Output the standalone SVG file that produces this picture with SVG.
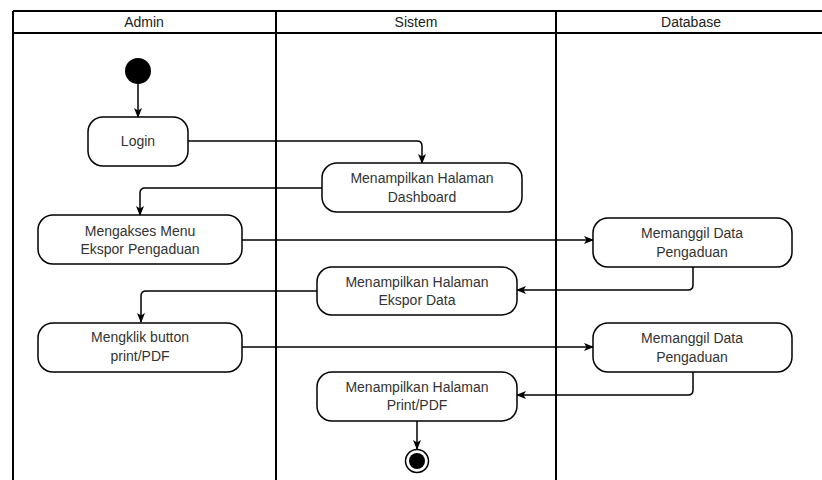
<svg xmlns="http://www.w3.org/2000/svg" width="822" height="480" viewBox="0 0 822 480">
  <style>
    .lane { stroke: #000; stroke-width: 2; fill: none; }
    .head { font-family: "Liberation Sans", Arial, sans-serif; font-size: 14px; fill: #222; text-anchor: middle; }
    .act rect { fill: #fff; stroke: #000; stroke-width: 1.5; }
    .act text { font-family: "Liberation Sans", Arial, sans-serif; font-size: 14px; fill: #333; text-anchor: middle; }
    .edge { fill: none; stroke: #000; stroke-width: 1.5; marker-end: url(#arrow); }
  </style>
  <defs>
    <marker id="arrow" viewBox="0 0 10 10" refX="9" refY="5" markerWidth="10" markerHeight="10" markerUnits="userSpaceOnUse" orient="auto">
      <path d="M0,1 L10,5 L0,9 L2.5,5 z" fill="#000"/>
    </marker>
  </defs>
  <rect width="822" height="480" fill="#fff"/>

  <!-- swimlanes -->
  <g id="lanes">
    <line class="lane" x1="13" y1="11" x2="822" y2="11"/>
    <line class="lane" x1="13" y1="33" x2="822" y2="33"/>
    <line class="lane" x1="13" y1="11" x2="13" y2="480"/>
    <line class="lane" x1="276" y1="11" x2="276" y2="480"/>
    <line class="lane" x1="556" y1="11" x2="556" y2="480"/>
    <text class="head" x="144" y="27">Admin</text>
    <text class="head" x="416" y="27">Sistem</text>
    <text class="head" x="691" y="27">Database</text>
  </g>

  <!-- connectors -->
  <g id="connectors">
    <path class="edge" d="M138,84 V117"/>
    <path class="edge" d="M188,141 H417 Q422,141 422,146 V163"/>
    <path class="edge" d="M322,188 H145 Q140,188 140,193 V215"/>
    <path class="edge" d="M242,240 H593"/>
    <path class="edge" d="M693,267 V285 Q693,290 688,290 H517"/>
    <path class="edge" d="M317,291 H146 Q141,291 141,296 V322"/>
    <path class="edge" d="M242,347 H593"/>
    <path class="edge" d="M693,372 V390 Q693,395 688,395 H517"/>
    <path class="edge" d="M417,421 V449"/>
  </g>

  <g id="start">
    <circle cx="138" cy="71" r="13" fill="#000"/>
  </g>

  <g id="login" class="act">
    <rect x="88" y="117" width="100" height="49" rx="15"/>
    <text x="138" y="146">Login</text>
  </g>

  <g id="dashboard" class="act">
    <rect x="322" y="163" width="200" height="49" rx="15"/>
    <text x="422" y="183">Menampilkan Halaman</text>
    <text x="422" y="202">Dashboard</text>
  </g>

  <g id="menu-ekspor" class="act">
    <rect x="38" y="215" width="204" height="49" rx="15"/>
    <text x="140" y="236">Mengakses Menu</text>
    <text x="140" y="254">Ekspor Pengaduan</text>
  </g>

  <g id="panggil-1" class="act">
    <rect x="593" y="218" width="199" height="49" rx="15"/>
    <text x="692" y="238">Memanggil Data</text>
    <text x="692" y="257">Pengaduan</text>
  </g>

  <g id="ekspor-data" class="act">
    <rect x="317" y="267" width="200" height="48" rx="15"/>
    <text x="417" y="287">Menampilkan Halaman</text>
    <text x="417" y="305">Ekspor Data</text>
  </g>

  <g id="klik-print" class="act">
    <rect x="38" y="323" width="204" height="49" rx="15"/>
    <text x="140" y="342">Mengklik button</text>
    <text x="140" y="361">print/PDF</text>
  </g>

  <g id="panggil-2" class="act">
    <rect x="593" y="323" width="199" height="49" rx="15"/>
    <text x="692" y="343">Memanggil Data</text>
    <text x="692" y="362">Pengaduan</text>
  </g>

  <g id="print-pdf" class="act">
    <rect x="317" y="372" width="200" height="49" rx="15"/>
    <text x="417" y="392">Menampilkan Halaman</text>
    <text x="417" y="410">Print/PDF</text>
  </g>

  <g id="end">
    <circle cx="417" cy="461" r="11.5" fill="#fff" stroke="#000" stroke-width="1.5"/>
    <circle cx="417" cy="461" r="8" fill="#000"/>
  </g>
</svg>
